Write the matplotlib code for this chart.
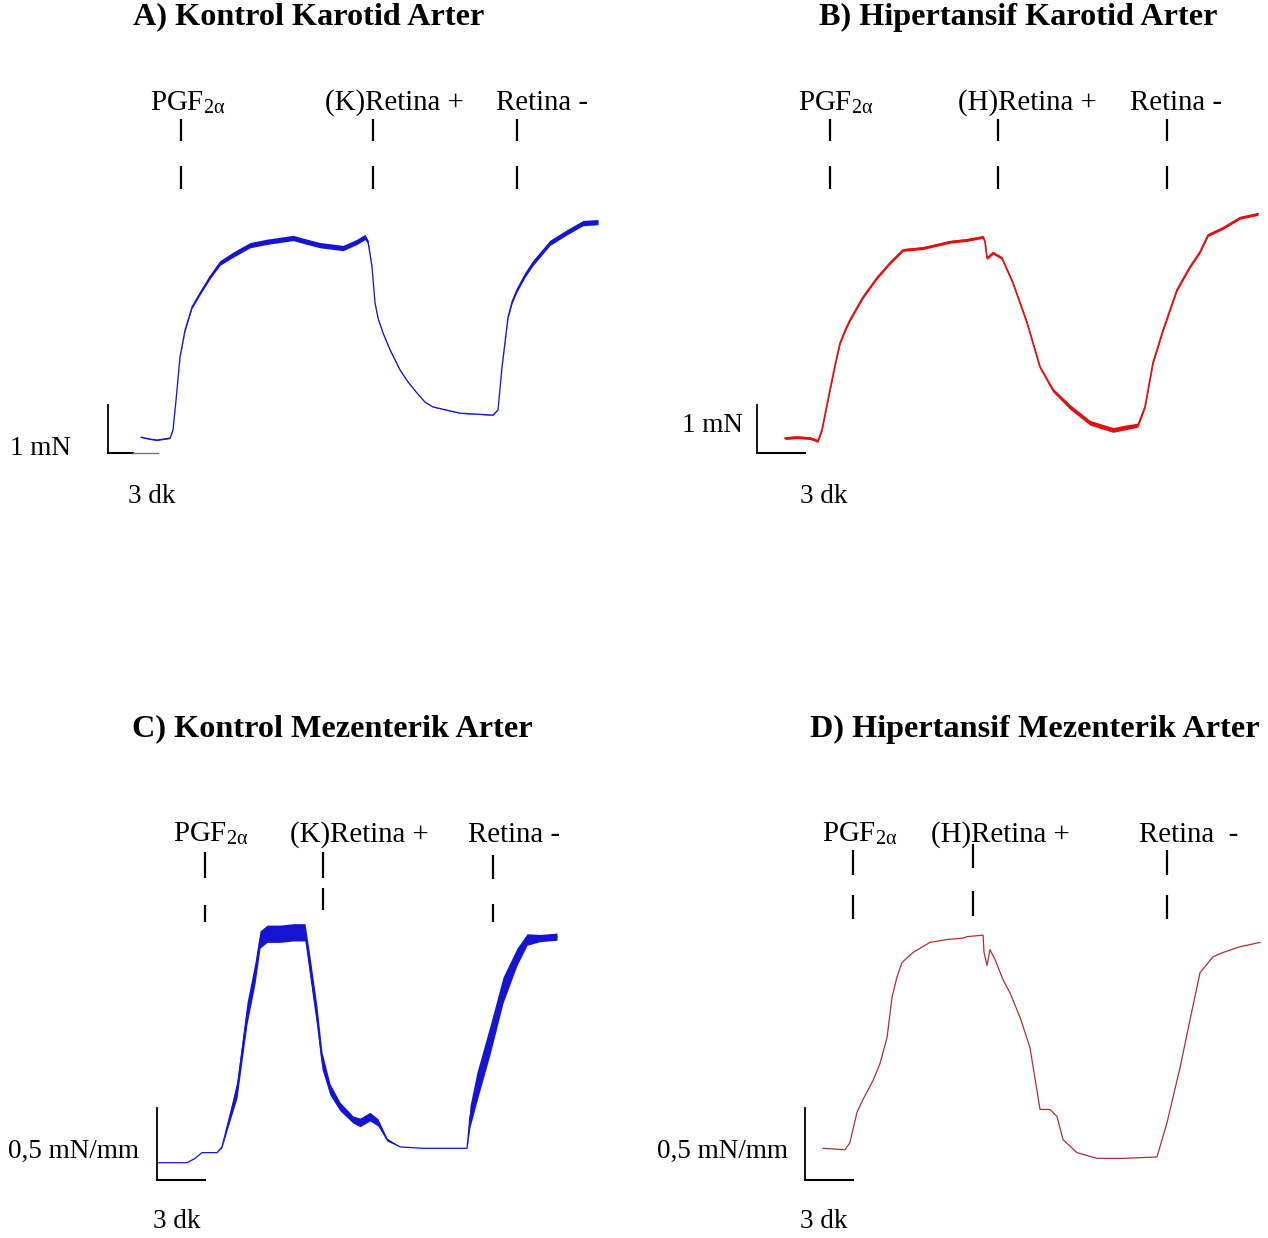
import numpy as np
import matplotlib.pyplot as plt

plt.rcParams['font.family'] = ['Liberation Serif', 'DejaVu Serif']
plt.rcParams['mathtext.fontset'] = 'stix'

W, H = 1268, 1238
PGF = 'PGF$_{\\mathregular{2α}}$'

# A) kontrol karotid: time (dk), tension (mN), noise envelope (mN)
a_t = [1.98, 2.52, 2.94, 3.72, 3.9, 4.08, 4.32, 4.62, 5.04, 5.52, 6.12, 6.72, 7.5,
       8.52, 9.54, 11.1, 11.94, 12.72, 14.1, 14.94, 15.42, 15.6, 15.84, 16.02, 16.2,
       16.5, 16.92, 17.52, 18.0, 18.54, 19.02, 19.5, 21.12, 23.1, 23.4, 23.64, 24.0,
       24.24, 24.54, 25.02, 25.5, 26.52, 27.54, 28.5, 29.4]
a_f = [0.33, 0.29, 0.27, 0.31, 0.48, 1.10, 2.0, 2.56, 3.04, 3.33, 3.67, 3.96, 4.13,
       4.33, 4.40, 4.48, 4.40, 4.33, 4.27, 4.40, 4.50, 4.40, 3.88, 3.13, 2.81,
       2.5, 2.15, 1.73, 1.48, 1.25, 1.06, 0.96, 0.83, 0.79, 0.90, 1.79, 2.83,
       3.15, 3.40, 3.71, 3.96, 4.38, 4.60, 4.79, 4.81]
a_band = [0.02, 0.02, 0.02, 0.02, 0.02, 0.02, 0.03, 0.05, 0.06, 0.07, 0.09, 0.1, 0.11,
          0.11, 0.11, 0.11, 0.11, 0.11, 0.11, 0.11, 0.11, 0.08, 0.02, 0.02, 0.02,
          0.02, 0.02, 0.02, 0.01, 0.01, 0.01, 0.01, 0.01, 0.01, 0.01, 0.03, 0.06,
          0.08, 0.09, 0.1, 0.11, 0.11, 0.11, 0.11, 0.11]
a_events = [4.38, 15.9, 24.54]
a_labels = [PGF, '(K)Retina +', 'Retina -']

# B) hipertansif karotid
b_t = [1.75, 2.5, 3.31, 3.81, 4.06, 4.31, 4.56, 4.88, 5.19, 5.5, 5.81, 6.63, 7.5,
       8.31, 9.13, 10.38, 12.06, 13.13, 14.13, 14.25, 14.38, 14.75, 15.31, 16.0,
       16.88, 17.69, 18.5, 19.56, 20.81, 22.25, 23.13, 23.81, 24.25, 24.75, 25.38,
       26.25, 27.06, 27.69, 28.19, 29.13, 30.19, 31.31]
b_f = [0.31, 0.33, 0.31, 0.25, 0.48, 0.90, 1.31, 1.83, 2.29, 2.55, 2.77, 3.25, 3.65,
       3.96, 4.23, 4.27, 4.40, 4.44, 4.50, 4.40, 4.06, 4.17, 4.06, 3.54,
       2.71, 1.79, 1.31, 0.96, 0.63, 0.48, 0.54, 0.58, 0.96, 1.88, 2.56,
       3.40, 3.88, 4.19, 4.54, 4.69, 4.90, 4.98]
b_band = [0.06] * 26 + [0.08, 0.1, 0.1, 0.1, 0.1, 0.08] + [0.06] * 10
b_events = [4.56, 15.06, 25.63]
b_labels = [PGF, '(H)Retina +', 'Retina -']

# C) kontrol mezenterik: time (dk), tension (mN/mm)
c_t = [0.0, 1.88, 2.38, 2.81, 3.75, 4.06, 4.38, 5.0, 5.63, 6.13, 6.44, 6.88, 7.69,
       8.5, 9.25, 9.56, 10.0, 10.31, 10.81, 11.44, 12.25, 12.69, 13.31, 13.81, 14.38,
       15.19, 16.63, 19.38, 19.56, 20.0, 20.81, 21.63, 22.5, 23.13, 23.94, 25.0]
c_f = [0.12, 0.12, 0.15, 0.19, 0.19, 0.23, 0.37, 0.63, 1.16, 1.44, 1.67, 1.71, 1.71,
       1.72, 1.72, 1.48, 1.13, 0.83, 0.63, 0.51, 0.42, 0.40, 0.44, 0.40, 0.28,
       0.23, 0.22, 0.22, 0.44, 0.65, 0.97, 1.32, 1.55, 1.67, 1.68, 1.69]
c_band = [0.0, 0.0, 0.0, 0.0, 0.0, 0.01, 0.05, 0.12, 0.15, 0.15, 0.12, 0.12, 0.12,
          0.12, 0.12, 0.15, 0.15, 0.12, 0.08, 0.06, 0.05, 0.06, 0.06, 0.05, 0.02,
          0.0, 0.0, 0.0, 0.15, 0.2, 0.2, 0.18, 0.12, 0.08, 0.05, 0.05]
c_events = [3.0, 10.38, 21.0]
c_labels = [PGF, '(K)Retina +', 'Retina -']

# D) hipertansif mezenterik
d_t = [1.13, 2.5, 2.81, 3.25, 3.63, 4.25, 4.69, 5.13, 5.44, 5.75, 6.06, 6.75, 7.81,
       8.88, 9.88, 10.13, 11.13, 11.19, 11.38, 11.56, 11.88, 12.38, 12.81, 13.44,
       14.06, 14.69, 15.31, 15.75, 16.13, 17.0, 18.25, 19.88, 22.0, 22.63, 23.44,
       24.06, 24.69, 25.5, 26.13, 27.19, 28.44]
d_f = [0.22, 0.21, 0.26, 0.47, 0.56, 0.69, 0.81, 0.99, 1.27, 1.41, 1.51, 1.58, 1.65,
       1.67, 1.68, 1.69, 1.70, 1.58, 1.49, 1.60, 1.53, 1.39, 1.30, 1.13,
       0.92, 0.49, 0.49, 0.44, 0.28, 0.19, 0.15, 0.15, 0.16, 0.40, 0.78,
       1.11, 1.44, 1.55, 1.58, 1.62, 1.65]
d_events = [3.0, 10.5, 22.63]
d_labels = [PGF, '(H)Retina +', 'Retina  -']

fig = plt.figure(figsize=(W / 100, H / 100), dpi=100)


def panel(x0, y0, sx, sy):
    # full-figure axes whose origin sits at pixel (x0, y0), sx px per dk, sy px per unit
    ax = fig.add_axes([0, 0, 1, 1])
    ax.set_xlim(-x0 / sx, (W - x0) / sx)
    ax.set_ylim((y0 - H) / sy, y0 / sy)
    ax.axis('off')
    ax.patch.set_alpha(0)
    return ax


def draw_events(ax, events, labels, label_x, label_y, rows):
    for ev, lab, lx, rr in zip(events, labels, label_x, rows):
        for top, bot in rr:
            ax.plot([ev, ev], [bot, top], color='black', lw=1.6, solid_capstyle='butt')
        ax.text(lx, label_y, lab, fontsize=20.8, ha='left', va='baseline')


def scale_bar(ax, ylen, ylab, ylab_xy, xlab_xy, grey_tail=False):
    ax.plot([0, 0], [0, ylen], color='black', lw=1.3)
    if grey_tail:
        ax.plot([0, 1.5], [0, 0], color='black', lw=1.5)
        ax.plot([1.5, 3], [0, 0], color='#777777', lw=1)
    else:
        ax.plot([0, 3], [0, 0], color='black', lw=1.5)
    ax.text(ylab_xy[0], ylab_xy[1], ylab, fontsize=19.5, va='baseline')
    ax.text(xlab_xy[0], xlab_xy[1], '3 dk', fontsize=19.5, va='baseline')


def trace(ax, t, f, band, color, lw):
    t = np.asarray(t)
    f = np.asarray(f)
    if band is not None:
        b = np.asarray(band) / 2
        ax.fill_between(t, f - b, f + b, color=color, lw=0)
    ax.plot(t, f, color=color, lw=lw)


# A
ax = panel(108, 453, 50 / 3, 48)
trace(ax, a_t, a_f, a_band, '#1414d2', 0.9)
rows_top = [(6.96, 6.5), (5.98, 5.5)]
draw_events(ax, a_events, a_labels, [2.52, 13.0, 23.3], 7.15, [rows_top] * 3)
scale_bar(ax, 1, '1 mN', (-5.88, -0.04), (1.2, -1.04), grey_tail=True)

# B
ax = panel(757, 453, 16, 48)
trace(ax, b_t, b_f, b_band, '#e01010', 1.2)
draw_events(ax, b_events, b_labels, [2.56, 12.56, 23.31], 7.15, [rows_top] * 3)
scale_bar(ax, 1, '1 mN', (-4.69, 0.44), (2.69, -1.04))

# C
ax = panel(157, 1180, 16, 144)
trace(ax, c_t, c_f, c_band, '#1414d2', 0.9)
c_rows = [[(2.28, 2.10), (1.91, 1.79)],
          [(2.28, 2.10), (2.03, 1.875)],
          [(2.26, 2.09), (1.92, 1.79)]]
draw_events(ax, c_events, c_labels, [1.0, 8.31, 19.44], 2.35, c_rows)
scale_bar(ax, 0.5, '0,5 mN/mm', (-9.31, 0.15), (-0.25, -0.33))

# D
ax = panel(805, 1180, 16, 144)
trace(ax, d_t, d_f, None, '#b03030', 0.9)
d_rows = [[(2.29, 2.12), (1.98, 1.81)],
          [(2.33, 2.17), (2.01, 1.83)],
          [(2.29, 2.12), (1.98, 1.81)]]
draw_events(ax, d_events, d_labels, [1.06, 7.88, 20.88], 2.35, d_rows)
scale_bar(ax, 0.5, '0,5 mN/mm', (-9.25, 0.15), (-0.31, -0.33))

titles = ['A) Kontrol Karotid Arter', 'B) Hipertansif Karotid Arter',
          'C) Kontrol Mezenterik Arter', 'D) Hipertansif Mezenterik Arter']
title_xy = [(309, 17), (1018, 17), (332, 729), (1035, 729)]
for txt, (tx, ty) in zip(titles, title_xy):
    fig.text(tx / W, 1 - ty / H, txt, fontsize=23.2, fontweight='bold',
             ha='center', va='center')

fig.savefig('out.png', dpi=100, facecolor='white')
